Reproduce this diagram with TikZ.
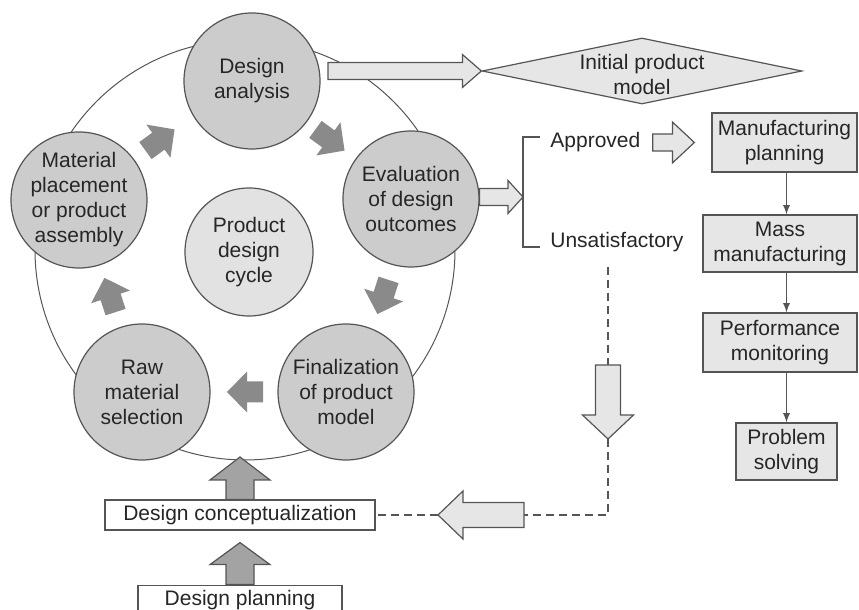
\documentclass[tikz,border=0pt]{standalone}
\usepackage{fontspec}
\setmainfont{Liberation Sans}
\usetikzlibrary{arrows,calc,positioning,shapes.geometric}
\definecolor{linegray}{HTML}{555555}
\definecolor{textgray}{HTML}{262626}
\definecolor{stagefill}{HTML}{CCCCCC}
\definecolor{hubfill}{HTML}{E2E2E2}
\definecolor{boxfill}{HTML}{E6E6E6}
\definecolor{cycfill}{HTML}{8A8A8A}
\definecolor{upfill}{HTML}{A3A3A3}
\tikzset{font=\fontsize{10.5}{12.5}\selectfont}
\tikzset{every node/.append style={text=textgray}}
\tikzset{
  stage/.style={circle, draw=linegray, line width=.6pt, fill=stagefill,
    minimum size=68pt, inner sep=0pt, align=center},
  hub/.style={stage, fill=hubfill, minimum size=64pt},
  mfgbox/.style={rectangle, draw=linegray, line width=.6pt, fill=boxfill,
    align=center, inner sep=0pt},
  planbox/.style={rectangle, draw=linegray, line width=.6pt, fill=white, inner sep=0pt},
  cycarrow/.style={fill=cycfill, draw=none},
  uparrow/.style={fill=upfill, draw=linegray, line width=.6pt},
  hollow/.style={fill=boxfill, draw=linegray, line width=.6pt},
  dashline/.style={draw=linegray, line width=.6pt, dash pattern=on 4pt off 2.5pt},
  flow/.style={draw=linegray, line width=.6pt, -latex},
}
% block arrow: [style]{start}{tip}{half shaft}{half head}{head length}
\newcommand{\blockarrow}[6][]{%
  \coordinate (ba-base) at ($#3!#6!#2$);
  \draw[#1] ($#2!#4!90:#3$) -- ($(ba-base)!#4!90:#3$) -- ($(ba-base)!#5!90:#3$) -- #3
    -- ($(ba-base)!#5!-90:#3$) -- ($(ba-base)!#4!-90:#3$) -- ($#2!#4!-90:#3$) -- cycle;}

\begin{document}
\begin{tikzpicture}[x=.5pt,y=.5pt]
\useasboundingbox (0,0) rectangle (859,610);

% the cycle
\draw[linegray, line width=.5pt] (245,360) circle[radius=105pt];
\node[hub] (pdc) at (249,358) {Product\\design\\cycle};
\node[stage] (da) at (252,529) {Design\\analysis};
\node[stage] (eva) at (411,411) {Evaluation\\of design\\outcomes};
\node[stage] (fin) at (346,218) {Finalization\\of product\\model};
\node[stage] (raw) at (142,218) {Raw\\material\\selection};
\node[stage] (mat) at (79,410) {Material\\placement\\or product\\assembly};
\foreach \cx/\cy/\dir in {160/470/36, 330/470/-36, 383/313/-108, 245/218/180, 110/315/108}{
  \coordinate (ca-s) at ($(\cx,\cy)+(\dir+180:18)$);
  \coordinate (ca-e) at ($(\cx,\cy)+(\dir:18)$);
  \blockarrow[cycarrow]{(ca-s)}{(ca-e)}{5.25pt}{10.25pt}{10pt}
}

% design planning and conceptualization
\node[planbox, minimum width=135pt, minimum height=15pt] (dc) at (240,95) {Design conceptualization};
\node[planbox, minimum width=102pt, minimum height=14.5pt, below=27pt of dc] (dp) {Design planning};
\coordinate (cycbot) at (240,153);
\coordinate (dcin) at ($(dc.south)+(0,-12)$);
\blockarrow[uparrow]{(dc.north)}{(cycbot)}{7pt}{15pt}{11.5pt}
\blockarrow[uparrow]{(dp.north)}{(dcin)}{7pt}{15pt}{11pt}

% initial product model
\node[diamond, draw=linegray, fill=boxfill, line width=.6pt, minimum width=160pt,
  minimum height=33pt, inner sep=0pt] (ipm) at (642,539) {};
\node[align=center] (ipmtext) at (642,535) {Initial product\\model};
\coordinate (daout) at (328,539);
\blockarrow[hollow]{(daout)}{(ipm.west)}{4.25pt}{8.25pt}{9.5pt}

% evaluation outcome
\coordinate (brk) at (523,413);
\coordinate (evaout) at (eva.east |- brk);
\blockarrow[hollow]{(evaout)}{(brk)}{4.25pt}{8.25pt}{7.5pt}
\draw[linegray, line width=.6pt] (540,473) -| (brk) |- (540,363);
\node[anchor=west, inner sep=0pt] (apr) at (550,467.5) {Approved};
\node[anchor=west, inner sep=0pt] (uns) at (550,368) {Unsatisfactory};

% manufacturing chain
\node[mfgbox, minimum width=72.5pt, minimum height=29.5pt] (mp) at (784.5,467.5) {Manufacturing\\planning};
\node[mfgbox, minimum width=77pt, minimum height=28.5pt] (mm) at (780,366.5) {Mass\\manufacturing};
\node[mfgbox, minimum width=77pt, minimum height=29.5pt] (pm) at (780,267.5) {Performance\\monitoring};
\node[mfgbox, minimum width=50.5pt, minimum height=28.5pt] (ps) at (786.5,158.5) {Problem\\solving};
\coordinate (aprout) at ($(apr.east)+(12,0)$);
\coordinate (mpin) at ($(mp.west)+(-17,0)$);
\blockarrow[hollow]{(aprout)}{(mpin)}{4.25pt}{10.25pt}{11pt}
\draw[flow] (mp.south -| ps.north) -- (mm.north -| ps.north);
\draw[flow] (mm.south -| ps.north) -- (pm.north -| ps.north);
\draw[flow] (pm.south -| ps.north) -- (ps.north);

% unsatisfactory feedback
\coordinate (unsbot) at (608,343);
\coordinate (dn-s) at (608,245);
\coordinate (dn-e) at (608,171);
\coordinate (lf-s) at (524,95);
\coordinate (lf-e) at (438,95);
\draw[dashline] (unsbot) -- (dn-s);
\blockarrow[hollow]{(dn-s)}{(dn-e)}{6.25pt}{12.75pt}{12pt}
\draw[dashline] (dn-e) |- (lf-s);
\blockarrow[hollow]{(lf-s)}{(lf-e)}{6.25pt}{12pt}{12.5pt}
\draw[dashline] (lf-e) -- (dc.east);

\end{tikzpicture}
\end{document}
